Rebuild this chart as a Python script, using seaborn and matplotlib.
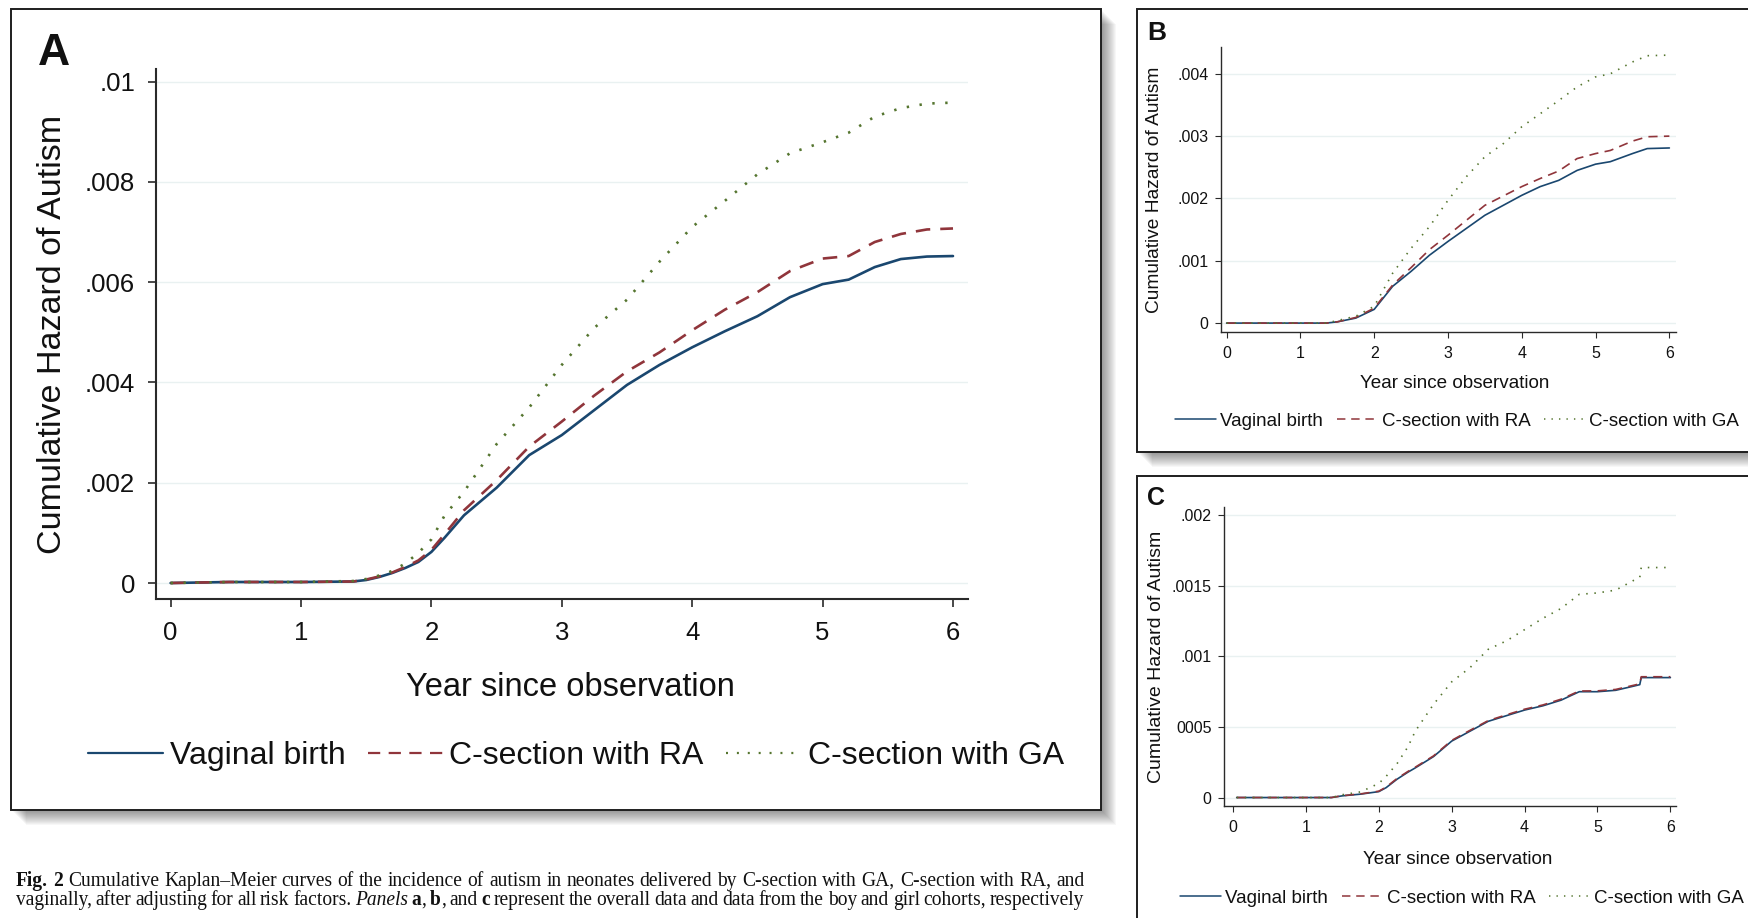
import numpy as np
import pandas as pd
import matplotlib
matplotlib.use("Agg")
import matplotlib.pyplot as plt
import seaborn as sns
from matplotlib.patches import Rectangle
from matplotlib.lines import Line2D

# ---------------- data (cumulative hazard, in units of 0.001) ----------------
UNIT = 1e-3
groups = ["Vaginal birth", "C-section with RA", "C-section with GA"]

years_a = [0, 0.45, 1.0, 1.4, 1.5, 1.6, 1.7, 1.8, 1.9, 2.0, 2.1, 2.25, 2.5, 2.75,
           3.0, 3.25, 3.5, 3.75, 4.0, 4.25, 4.5, 4.75, 5.0, 5.2, 5.4, 5.6, 5.8, 6.0]
vaginal_a = [0, 0.02, 0.02, 0.03, 0.06, 0.12, 0.2, 0.3, 0.42, 0.62, 0.9, 1.35, 1.9, 2.55,
             2.95, 3.45, 3.95, 4.35, 4.7, 5.02, 5.32, 5.7, 5.96, 6.05, 6.3, 6.46, 6.51, 6.52]
ra_a = [0, 0.02, 0.02, 0.03, 0.07, 0.13, 0.21, 0.32, 0.45, 0.66, 0.97, 1.45, 2.05, 2.72,
        3.22, 3.74, 4.22, 4.6, 5.04, 5.45, 5.8, 6.22, 6.47, 6.52, 6.8, 6.96, 7.05, 7.07]
ga_a = [0, 0.02, 0.02, 0.04, 0.08, 0.15, 0.24, 0.39, 0.6, 0.87, 1.34, 1.82, 2.77, 3.5,
        4.35, 5.09, 5.65, 6.41, 7.1, 7.62, 8.15, 8.57, 8.79, 8.98, 9.3, 9.47, 9.56, 9.58]

years_b = [0, 1.35, 1.5, 1.75, 2.0, 2.25, 2.5, 2.75, 3.0, 3.25, 3.5, 3.75, 4.0, 4.25,
           4.5, 4.75, 5.0, 5.2, 5.5, 5.7, 6.0]
vaginal_b = [0, 0, 0.02, 0.08, 0.22, 0.59, 0.83, 1.09, 1.31, 1.52, 1.73, 1.89, 2.05, 2.19,
             2.29, 2.45, 2.55, 2.59, 2.72, 2.8, 2.81]
ra_b = [0, 0, 0.02, 0.09, 0.24, 0.61, 0.89, 1.18, 1.41, 1.65, 1.89, 2.04, 2.19, 2.32,
        2.44, 2.64, 2.72, 2.77, 2.92, 2.99, 3.0]
ga_b = [0, 0, 0.04, 0.11, 0.27, 0.8, 1.2, 1.55, 1.97, 2.35, 2.67, 2.88, 3.15, 3.36,
        3.57, 3.79, 3.95, 4.0, 4.19, 4.29, 4.3]

years_c = [0.05, 1.35, 1.5, 1.75, 2.0, 2.1, 2.25, 2.4, 2.5, 2.75, 3.0, 3.25, 3.5, 3.75,
           4.0, 4.25, 4.5, 4.75, 5.0, 5.25, 5.5, 5.58, 5.6, 6.0]
vaginal_c = [0, 0, 0.012, 0.024, 0.042, 0.07, 0.13, 0.18, 0.21, 0.29, 0.40, 0.47, 0.54, 0.58,
             0.62, 0.65, 0.69, 0.75, 0.75, 0.76, 0.79, 0.80, 0.85, 0.85]
ra_c = [0, 0, 0.013, 0.026, 0.045, 0.074, 0.135, 0.185, 0.215, 0.295, 0.405, 0.476, 0.545, 0.586,
        0.626, 0.656, 0.697, 0.755, 0.756, 0.766, 0.796, 0.806, 0.856, 0.856]
ga_c = [0, 0, 0.02, 0.04, 0.1, 0.15, 0.24, 0.36, 0.47, 0.66, 0.82, 0.92, 1.05, 1.11,
        1.19, 1.27, 1.34, 1.44, 1.45, 1.47, 1.54, 1.56, 1.63, 1.63]

xticks = [0, 1, 2, 3, 4, 5, 6]
xtick_labels = ["0", "1", "2", "3", "4", "5", "6"]
yticks_a = [0, 0.002, 0.004, 0.006, 0.008, 0.01]
ytick_labels_a = ["0", ".002", ".004", ".006", ".008", ".01"]
yticks_b = [0, 0.001, 0.002, 0.003, 0.004]
ytick_labels_b = ["0", ".001", ".002", ".003", ".004"]
yticks_c = [0, 0.0005, 0.001, 0.0015, 0.002]
ytick_labels_c = ["0", "0005", ".001", ".0015", ".002"]

xlabel = "Year since observation"
ylabel = "Cumulative Hazard of Autism"

caption_line1 = [[("Fig.", "b")], [("2", "b")], [("Cumulative", "")], [("Kaplan–Meier", "")],
                 [("curves", "")], [("of", "")], [("the", "")], [("incidence", "")], [("of", "")],
                 [("autism", "")], [("in", "")], [("neonates", "")], [("delivered", "")], [("by", "")],
                 [("C-section", "")], [("with", "")], [("GA,", "")], [("C-section", "")],
                 [("with", "")], [("RA,", "")], [("and", "")]]
caption_line2 = [[("vaginally,", "")], [("after", "")], [("adjusting", "")], [("for", "")],
                 [("all", "")], [("risk", "")], [("factors.", "")], [("Panels", "i")],
                 [("a", "b"), (",", "")], [("b", "b"), (",", "")], [("and", "")], [("c", "b")],
                 [("represent", "")], [("the", "")], [("overall", "")], [("data", "")], [("and", "")],
                 [("data", "")], [("from", "")], [("the", "")], [("boy", "")], [("and", "")],
                 [("girl", "")], [("cohorts,", "")], [("respectively", "")]]

# ---------------- style ----------------
sns.set_style("white")
plt.rcParams["font.family"] = ["Liberation Sans", "DejaVu Sans"]
COLORS = {"Vaginal birth": "#1a476f", "C-section with RA": "#90353b", "C-section with GA": "#55752f"}
DASHES = {"Vaginal birth": "-", "C-section with RA": (0, (5.5, 3.8)), "C-section with GA": (0, (0.9, 4.0))}

W, H = 1748, 918
fig = plt.figure(figsize=(W / 100, H / 100), dpi=100)
fig.patch.set_facecolor("white")


def fx(x):
    return x / W


def fy(y):
    return 1 - y / H


def panel_box(x0, y0, x1, y1, shadow=True):
    if shadow:
        for d in range(1, 16):
            fig.add_artist(Rectangle((fx(x0 + d), fy(y1 + d)), fx(x1 - x0), (y1 - y0) / H,
                                     transform=fig.transFigure, facecolor="black",
                                     edgecolor="none", alpha=0.03, zorder=-20))
    fig.add_artist(Rectangle((fx(x0), fy(y1)), fx(x1 - x0), (y1 - y0) / H,
                             transform=fig.transFigure, facecolor="white",
                             edgecolor="#1e1e1e", linewidth=1.4, zorder=-10))


def make_panel(rect_px, xlim, ylim, years, series, yticks, yticklabels, lw,
               tick_fs, label_fs, tick_len, tick_pad_x, tick_pad_y, spine_w,
               xlab_coords, ylab_coords, ylab_fs):
    x0, y0, x1, y1 = rect_px
    ax = fig.add_axes([fx(x0), fy(y1), fx(x1 - x0), (y1 - y0) / H])
    ax.set_facecolor("white")
    for g, vals in zip(groups, series):
        df = pd.DataFrame({"year": years, "hazard": [v * UNIT for v in vals]})
        sns.lineplot(data=df, x="year", y="hazard", ax=ax, color=COLORS[g], linewidth=lw,
                     linestyle=DASHES[g], estimator=None, sort=True, label=g, legend=False)
    ax.set_xlim(*xlim)
    ax.set_ylim(*ylim)
    ax.set_xticks(xticks)
    ax.set_xticklabels(xtick_labels)
    ax.set_yticks(yticks)
    ax.set_yticklabels(yticklabels)
    ax.yaxis.grid(True, color="#e9f1f1", linewidth=1.0)
    ax.xaxis.grid(False)
    ax.set_axisbelow(True)
    for s in ["top", "right"]:
        ax.spines[s].set_visible(False)
    for s in ["left", "bottom"]:
        ax.spines[s].set_color("#2a2a2a")
        ax.spines[s].set_linewidth(spine_w)
    ax.tick_params(axis="both", direction="out", length=tick_len, width=spine_w * 0.8,
                   color="#2a2a2a", labelsize=tick_fs, labelcolor="#111111", left=True, bottom=True)
    ax.tick_params(axis="x", pad=tick_pad_x)
    ax.tick_params(axis="y", pad=tick_pad_y)
    ax.set_xlabel(xlabel, fontsize=label_fs, color="#111111")
    ax.set_ylabel(ylabel, fontsize=ylab_fs, color="#111111")
    ax.xaxis.set_label_coords(*xlab_coords)
    ax.xaxis.label.set_va("top")
    ax.yaxis.set_label_coords(*ylab_coords)
    return ax


def add_legend(ax, cx, cy, fs, hl, htp, cs, lw):
    handles = [Line2D([], [], color=COLORS[g], lw=lw, linestyle=DASHES[g]) for g in groups]
    ax.legend(handles, groups, loc="center", bbox_to_anchor=(fx(cx), fy(cy)),
              bbox_transform=fig.transFigure, ncol=3, frameon=False, fontsize=fs,
              handlelength=hl, handletextpad=htp, columnspacing=cs, borderaxespad=0,
              borderpad=0, labelcolor="#111111")


# ---------------- panel boxes ----------------
panel_box(11, 9, 1101, 810)
panel_box(1137, 9, 1760, 452)
panel_box(1137, 476, 1760, 930, shadow=False)

# ---------------- Panel A ----------------
axA = make_panel((156, 69, 968, 599), (-0.112, 6.115), (-0.000319, 0.01025),
                 years_a, [vaginal_a, ra_a, ga_a], yticks_a, ytick_labels_a,
                 lw=1.9, tick_fs=18.5, label_fs=23.5, tick_len=6,
                 tick_pad_x=10, tick_pad_y=9, spine_w=1.5,
                 xlab_coords=(0.51, -0.138), ylab_coords=(-0.108, 0.5), ylab_fs=24.5)
add_legend(axA, 576, 756, 23, 2.35, 0.2, 0.7, 1.6)
fig.text(fx(38), fy(33), "A", fontsize=32, fontweight="bold", va="top", ha="left", color="#111111")

# ---------------- Panel B ----------------
axB = make_panel((1221, 47, 1676, 332), (-0.076, 6.09), (-0.000143, 0.00443),
                 years_b, [vaginal_b, ra_b, ga_b], yticks_b, ytick_labels_b,
                 lw=1.2, tick_fs=11.5, label_fs=13.6, tick_len=4,
                 tick_pad_x=6, tick_pad_y=5, spine_w=1.0,
                 xlab_coords=(0.513, -0.152), ylab_coords=(-0.127, 0.5), ylab_fs=13.8)
add_legend(axB, 1457, 421, 13.5, 2.2, 0.2, 0.75, 1.1)
fig.text(fx(1147), fy(21), "B", fontsize=19, fontweight="bold", va="top", ha="left", color="#111111")

# ---------------- Panel C ----------------
axC = make_panel((1224, 507, 1676, 806), (-0.124, 6.077), (-0.0000600, 0.002059),
                 years_c, [vaginal_c, ra_c, ga_c], yticks_c, ytick_labels_c,
                 lw=1.2, tick_fs=11.5, label_fs=13.6, tick_len=4,
                 tick_pad_x=6, tick_pad_y=5, spine_w=1.0,
                 xlab_coords=(0.516, -0.15), ylab_coords=(-0.131, 0.5), ylab_fs=14.0)
add_legend(axC, 1462, 898, 13.5, 2.2, 0.2, 0.75, 1.1)
fig.text(fx(1147), fy(486), "C", fontsize=18, fontweight="bold", va="top", ha="left", color="#111111")

# ---------------- caption ----------------
renderer = fig.canvas.get_renderer()
SERIF = ["Liberation Serif", "DejaVu Serif"]


def run_props(code):
    return dict(family=SERIF, fontweight="bold" if "b" in code else "normal",
                fontstyle="italic" if "i" in code else "normal")


def measure(txt, code, fs):
    t = fig.text(0, 0, txt, fontsize=fs, **run_props(code))
    w = t.get_window_extent(renderer).width
    t.remove()
    return w


def justified(tokens, x0, x1, y_base, fs):
    widths = [sum(measure(t, c, fs) for t, c in tok) for tok in tokens]
    gap = (x1 - x0 - sum(widths)) / (len(tokens) - 1)
    x = x0
    for tok, w in zip(tokens, widths):
        for t, c in tok:
            fig.text(fx(x), fy(y_base), t, fontsize=fs, va="baseline", ha="left", color="#111111",
                     **run_props(c))
            x += measure(t, c, fs)
        x += gap


fs0 = 12.0
space0 = measure("a a", "", fs0) - 2 * measure("a", "", fs0)
nat = sum(sum(measure(t, c, fs0) for t, c in tok) for tok in caption_line1) + space0 * (len(caption_line1) - 1)
cap_fs = min(14.5, fs0 * (1085 - 16) / nat * 0.995)
justified(caption_line1, 16, 1085, 886, cap_fs)
justified(caption_line2, 16, 1084, 905, cap_fs)

fig.savefig("out.png", dpi=100, facecolor="white")
